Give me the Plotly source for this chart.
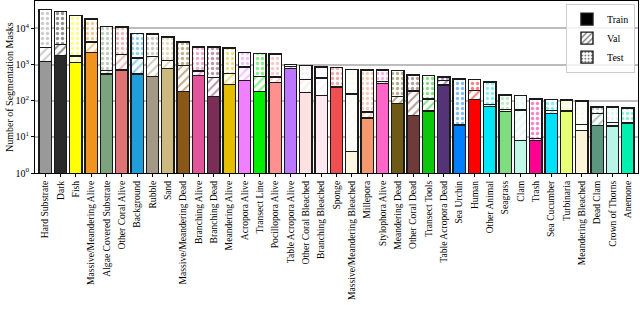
import plotly.graph_objects as go

categories = ["Hard Substrate", "Dark", "Fish", "Massive/Meandering Alive", "Algae Covered Substrate",
              "Other Coral Alive", "Background", "Rubble", "Sand", "Massive/Meandering Dead",
              "Branching Alive", "Branching Dead", "Meandering Alive", "Acropora Alive", "Transect Line",
              "Pocillopora Alive", "Table Acropora Alive", "Other Coral Bleached", "Branching Bleached", "Sponge",
              "Massive/Meandering Bleached", "Millepora", "Stylophora Alive", "Meandering Dead", "Other Coral Dead",
              "Transect Tools", "Table Acropora Dead", "Sea Urchin", "Human", "Other Animal",
              "Seagrass", "Clam", "Trash", "Sea Cucumber", "Turbinaria",
              "Meandering Bleached", "Dead Clam", "Crown of Thorns", "Anemone"]

train = [1220, 1820, 1140, 2160, 553, 700, 553, 468, 795, 180,
         508, 133, 280, 370, 180, 325, 780, 172, 139, 232,
         4, 33, 305, 85, 39, 52, 270, 21, 110, 70,
         51, 8, 8, 44, 52, 15, 21, 20, 23]
val = [1750, 1780, 600, 2010, 133, 1240, 977, 1200, 525, 765,
       162, 307, 285, 480, 295, 131, 120, 214, 288, 20,
       151, 16, 42, 48, 147, 60, 100, 1, 85, 8,
       6, 47, 1, 9, 2, 7, 24, 5, 2]
test = [31000, 26400, 21500, 13900, 10800, 8960, 5770, 5430, 4540, 3325,
        2430, 2660, 2335, 1340, 1555, 1494, 120, 559, 436, 578,
        590, 666, 368, 553, 333, 388, 86, 378, 191, 252,
        88, 84, 103, 55, 51, 77, 22, 42, 38]

colors = ["#999999", "#2a2a2a", "#ffff00", "#f0941f", "#7ca37e", "#e07474", "#1e9fdc", "#a29a86", "#cdb880", "#8a5716",
          "#e2559b", "#7a2d57", "#e6be00", "#f080ff", "#00ee00", "#ff9090", "#bb77ff", "#fde0e0", "#fde8f0", "#ef4f50",
          "#fff5e0", "#f4986e", "#ff66c8", "#6e5a14", "#6e3a3a", "#0cc80c", "#553377", "#0080ff", "#ff0000", "#00e8f8",
          "#80dc80", "#c0f8e8", "#ff0090", "#00e0f8", "#e8ff78", "#fcf4d8", "#5a9680", "#b8f4e8", "#00f0b0"]

series_names = ["Train", "Val", "Test"]
y_title = "Number of Segmentation Masks"

FONT = "Liberation Serif"
edge = dict(color="#1a1a1a", width=1.4)

fig = go.Figure()
fig.add_trace(go.Bar(x=categories, y=train, marker=dict(color=colors, line=edge), showlegend=False))
fig.add_trace(go.Bar(x=categories, y=val, marker=dict(color="white", line=edge,
                     pattern=dict(shape="/", fgcolor=colors, bgcolor="white", size=6, solidity=0.35)),
                     showlegend=False))
fig.add_trace(go.Bar(x=categories, y=test, marker=dict(color="white", line=edge,
                     pattern=dict(shape=".", fgcolor=colors, bgcolor="white", size=5, solidity=0.35)),
                     showlegend=False))

# legend entries (no drawn data)
fig.add_trace(go.Bar(x=[categories[0]], y=[None], name=series_names[0], marker=dict(color="black", line=edge)))
fig.add_trace(go.Bar(x=[categories[0]], y=[None], name=series_names[1], marker=dict(color="white", line=edge,
                     pattern=dict(shape="/", fgcolor="black", bgcolor="white", size=5, solidity=0.35))))
fig.add_trace(go.Bar(x=[categories[0]], y=[None], name=series_names[2], marker=dict(color="white", line=edge,
                     pattern=dict(shape=".", fgcolor="black", bgcolor="white", size=4, solidity=0.35))))

fig.update_layout(
    width=640, height=310,
    barmode="stack", bargap=0.2,
    margin=dict(l=35, r=2, t=1, b=137, autoexpand=False),
    plot_bgcolor="white", paper_bgcolor="white",
    font=dict(family=FONT, size=10, color="black"),
    legend=dict(x=0.995, y=0.985, xanchor="right", yanchor="top", traceorder="normal",
                bordercolor="#cccccc", borderwidth=1, bgcolor="rgba(255,255,255,0.8)",
                font=dict(family=FONT, size=10), tracegroupgap=0),
    annotations=[dict(text=y_title, xref="paper", yref="paper", x=0, y=0.5, xanchor="center", yanchor="middle",
                      xshift=-26, textangle=-90, showarrow=False, font=dict(family=FONT, size=10))],
)
fig.update_xaxes(
    type="category", range=[-0.67, 38.67], tickangle=-90, automargin=False,
    showline=True, linecolor="black", linewidth=1, mirror=True,
    ticks="outside", ticklen=3, tickcolor="black", showgrid=False,
    tickfont=dict(family=FONT, size=9.6),
)
fig.update_yaxes(
    type="log", range=[0, 4.76], automargin=False,
    tickvals=[1, 10, 100, 1000, 10000],
    ticktext=["10<sup>0</sup>", "10<sup>1</sup>", "10<sup>2</sup>", "10<sup>3</sup>", "10<sup>4</sup>"],
    showline=True, linecolor="black", linewidth=1, mirror=True,
    ticks="outside", ticklen=3, tickcolor="black",
    showgrid=True, gridcolor="rgba(160,160,160,0.7)", gridwidth=1.5,
    layer="above traces",
    tickfont=dict(family=FONT, size=10),
)

fig.write_html("out.html", config={"displayModeBar": False},
               post_script="document.body.style.margin='0';document.body.style.overflow='hidden';")
